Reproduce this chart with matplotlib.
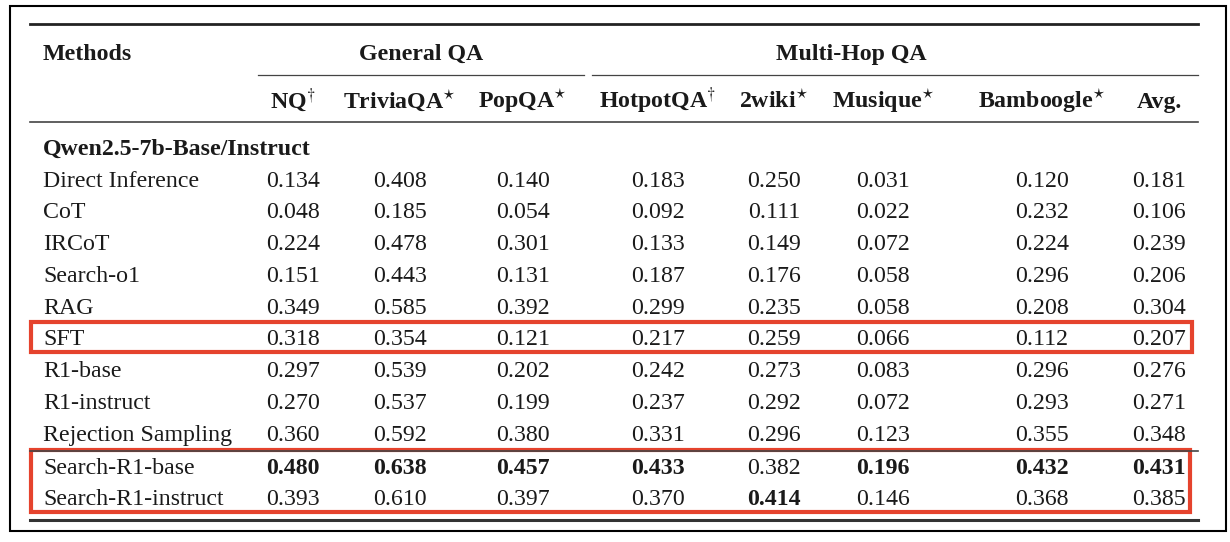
import matplotlib.pyplot as plt
import numpy as np
from matplotlib.patches import Rectangle

# table contents
methods = ['Direct Inference', 'CoT', 'IRCoT', 'Search-o1', 'RAG', 'SFT',
           'R1-base', 'R1-instruct', 'Rejection Sampling',
           'Search-R1-base', 'Search-R1-instruct']
columns = [r'NQ$^{\dagger}$', r'TriviaQA$^{\star}$', r'PopQA$^{\star}$',
           r'HotpotQA$^{\dagger}$', r'2wiki$^{\star}$', r'Musique$^{\star}$',
           r'Bamboogle$^{\star}$', 'Avg.']
groups = ['General QA', 'Multi-Hop QA']
section = 'Qwen2.5-7b-Base/Instruct'
scores = [
    [0.134, 0.408, 0.140, 0.183, 0.250, 0.031, 0.120, 0.181],
    [0.048, 0.185, 0.054, 0.092, 0.111, 0.022, 0.232, 0.106],
    [0.224, 0.478, 0.301, 0.133, 0.149, 0.072, 0.224, 0.239],
    [0.151, 0.443, 0.131, 0.187, 0.176, 0.058, 0.296, 0.206],
    [0.349, 0.585, 0.392, 0.299, 0.235, 0.058, 0.208, 0.304],
    [0.318, 0.354, 0.121, 0.217, 0.259, 0.066, 0.112, 0.207],
    [0.297, 0.539, 0.202, 0.242, 0.273, 0.083, 0.296, 0.276],
    [0.270, 0.537, 0.199, 0.237, 0.292, 0.072, 0.293, 0.271],
    [0.360, 0.592, 0.380, 0.331, 0.296, 0.123, 0.355, 0.348],
    [0.480, 0.638, 0.457, 0.433, 0.382, 0.196, 0.432, 0.431],
    [0.393, 0.610, 0.397, 0.370, 0.414, 0.146, 0.368, 0.385],
]

plt.rcParams['font.family'] = ['Liberation Serif', 'DejaVu Serif']
plt.rcParams['mathtext.fontset'] = 'stix'

W, H = 1230, 542
fig = plt.figure(figsize=(W / 100, H / 100), dpi=100)
ax = fig.add_axes([0, 0, 1, 1])
ax.set_xlim(0, W)
ax.set_ylim(H, 0)
ax.axis('off')

fs = 17.2
txt = '#1a1a1a'
col_x = [293, 400, 523, 658, 774, 883, 1042, 1159]
# text baselines (pixels from top)
row_y = [187, 218.5, 250, 282, 313.5, 345, 377, 409, 441, 474, 505]
x_left, x_right = 30, 1198
x_name = 43

# outer frame
ax.add_patch(Rectangle((10, 6), 1216, 525, fill=False, ec='black', lw=1.5))

# rules
ax.plot([x_left, x_right], [24, 24], color='#222222', lw=2.0)
ax.plot([258, 584], [75, 75], color='#444444', lw=0.9)
ax.plot([592, x_right], [75, 75], color='#444444', lw=0.9)
ax.plot([x_left, x_right], [122, 122], color='#444444', lw=1.2)
ax.plot([x_left, x_right], [451, 451], color='#444444', lw=1.2)
ax.plot([x_left, x_right], [520, 520], color='#333333', lw=2.2)

# headers
ax.text(x_name, 60, 'Methods', fontsize=fs, fontweight='bold', va='baseline', color=txt)
ax.text(421, 60, groups[0], fontsize=fs, fontweight='bold', va='baseline',
        ha='center', color=txt)
ax.text(851, 60, groups[1], fontsize=fs, fontweight='bold', va='baseline',
        ha='center', color=txt)
for x, c in zip(col_x, columns):
    ax.text(x, 108, c, fontsize=fs, fontweight='bold', va='baseline',
            ha='center', color=txt)
ax.text(x_name, 155, section, fontsize=fs, fontweight='bold', va='baseline', color=txt)

# body
vals = np.array(scores)
best = vals.argmax(axis=0)
for i, (m, y) in enumerate(zip(methods, row_y)):
    ax.text(x_name, y, m, fontsize=fs, va='baseline', color=txt)
    for j, x in enumerate(col_x):
        w = 'bold' if best[j] == i else 'normal'
        ax.text(x, y, f'{vals[i, j]:.3f}', fontsize=fs, va='baseline',
                ha='center', fontweight=w, color=txt)

# highlight boxes
red = '#E5432D'
ax.add_patch(Rectangle((31, 322), 1161, 30, fill=False, ec=red, lw=3))
ax.add_patch(Rectangle((31, 450), 1159, 62, fill=False, ec=red, lw=3))

fig.savefig('out.png', dpi=100)
